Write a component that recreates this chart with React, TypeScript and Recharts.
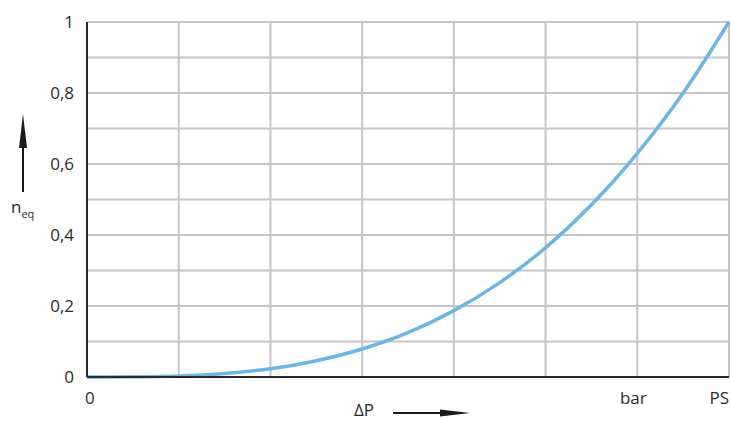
import React from 'react';
import { LineChart, Line, XAxis, YAxis, CartesianGrid } from 'recharts';

// pressure steps (0 .. PS), 7 grid intervals
const pressureSteps = [0, 0.5, 1, 1.5, 2, 2.5, 3, 3.5, 4, 4.5, 5, 5.5, 6, 6.5, 7];
const neqValues = [0, 0.0005, 0.003, 0.01, 0.023, 0.046, 0.079, 0.125, 0.187, 0.266, 0.364, 0.485, 0.63, 0.8, 1];

const xTicks = [0, 1, 2, 3, 4, 5, 6, 7];
const xTickLabels: Record<number, string> = { 0: '0', 6: 'bar', 7: 'PS' };
const yTicks = [0, 0.1, 0.2, 0.3, 0.4, 0.5, 0.6, 0.7, 0.8, 0.9, 1];
const yTickLabels: Record<string, string> = { '0': '0', '0.2': '0,2', '0.4': '0,4', '0.6': '0,6', '0.8': '0,8', '1': '1' };

const data = pressureSteps.map((p, i) => ({ p, neq: neqValues[i] }));

const FONT = '"Open Sans", "Noto Sans", sans-serif';
const TEXT = '#2b2b2b';

const XTick = ({ x, y, payload }: any) => {
  const label = xTickLabels[payload.value];
  if (!label) return null;
  const anchor = payload.value === 0 ? 'start' : payload.value === 7 ? 'end' : 'middle';
  const dx = payload.value === 0 ? -2 : payload.value === 6 ? -4 : 0;
  return (
    <text x={x + dx} y={y + 19} textAnchor={anchor} fontSize={17} fill={TEXT} fontFamily={FONT}>
      {label}
    </text>
  );
};

const YTick = ({ y, payload }: any) => {
  const label = yTickLabels[String(Math.round(payload.value * 10) / 10)];
  if (!label) return null;
  return (
    <text x={74} y={y + 6} textAnchor="end" fontSize={17} fill={TEXT} fontFamily={FONT}>
      {label}
    </text>
  );
};

export default function App() {
  return (
    <div style={{ position: 'fixed', left: 0, top: 0, width: 731, height: 421, background: '#fff' }}>
      <LineChart width={731} height={421} data={data} margin={{ top: 22, right: 2, left: 0, bottom: 14 }}>
        <CartesianGrid stroke="#c6c6ca" strokeWidth={2} horizontal vertical />
        <XAxis
          dataKey="p"
          type="number"
          domain={[0, 7]}
          ticks={xTicks}
          tick={<XTick />}
          tickLine={false}
          axisLine={{ stroke: '#2a2a2a', strokeWidth: 2 }}
          height={30}
          interval={0}
        />
        <YAxis
          type="number"
          domain={[0, 1]}
          ticks={yTicks}
          tick={<YTick />}
          tickLine={false}
          axisLine={{ stroke: '#2a2a2a', strokeWidth: 2 }}
          width={87}
          interval={0}
        />
        <Line
          type="monotone"
          dataKey="neq"
          stroke="#6cb6e6"
          strokeWidth={3.5}
          dot={false}
          isAnimationActive={false}
        />
      </LineChart>
      <svg width={731} height={421} style={{ position: 'absolute', left: 0, top: 0, pointerEvents: 'none' }}>
        {/* y axis arrow */}
        <line x1={23} y1={192} x2={23} y2={140} stroke="#1a1a1a" strokeWidth={2} />
        <path d="M23,114 L27,148 L19,148 z" fill="#1a1a1a" />
        <text x={11} y={213} fontSize={17} fill={TEXT} fontFamily={FONT}>
          n<tspan fontSize={11} dy={5}>eq</tspan>
        </text>
        {/* x axis arrow */}
        <text x={354} y={416} fontSize={17} fill={TEXT} fontFamily={FONT}>ΔP</text>
        <line x1={393} y1={413} x2={445} y2={413} stroke="#1a1a1a" strokeWidth={2} />
        <path d="M470,413 L440,409.5 L440,416.5 z" fill="#1a1a1a" />
      </svg>
    </div>
  );
}
